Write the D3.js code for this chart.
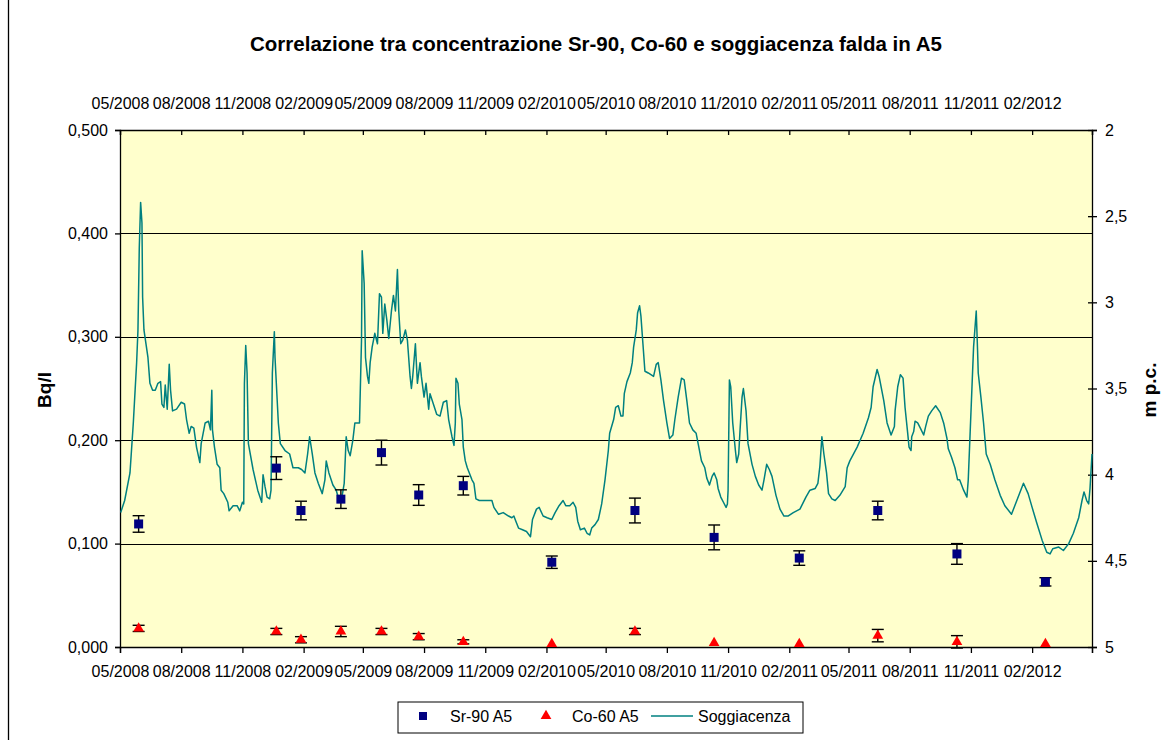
<!DOCTYPE html>
<html>
<head>
<meta charset="utf-8">
<script src="https://cdn.jsdelivr.net/npm/d3@7"></script>
<style>
  body { margin: 0; background: #fff; }
  svg { display: block; font-family: "Liberation Sans", Arial, sans-serif; }
</style>
</head>
<body>
<svg id="chart" width="1171" height="740"></svg>
<script>
// --- data ---
const title = "Correlazione tra concentrazione Sr-90, Co-60 e soggiacenza falda in A5";
const tickLabels = ["05/2008","08/2008","11/2008","02/2009","05/2009","08/2009","11/2009",
  "02/2010","05/2010","08/2010","11/2010","02/2011","05/2011","08/2011","11/2011","02/2012"];
const dateStart = "2008-05-01", dateEnd = "2012-05-01";

// sampling dates (Sr-90 and Co-60 share them)
const sampleDates = ["2008-05-29","2008-12-22","2009-01-28","2009-03-29","2009-05-29","2009-07-24",
  "2009-09-29","2010-02-09","2010-06-14","2010-10-11","2011-02-16","2011-06-14","2011-10-11","2012-02-21"];
const srValues = [0.119,0.173,0.132,0.143,0.188,0.147,0.156,0.082,0.132,0.106,0.086,0.132,0.090,0.063];
const srErr    = [0.008,0.011,0.009,0.009,0.012,0.010,0.009,0.006,0.012,0.012,0.007,0.009,0.010,0.004];
const coValues = [0.018,0.015,0.007,0.015,0.015,0.010,0.005,0.003,0.015,0.004,0.003,0.011,0.005,0.003];
const coErr    = [0.003,0.003,0.003,0.005,0.003,0.003,0.002,0,0.003,0,0,0.006,0.006,0];

// Soggiacenza: day of record (days since 01/05/2008) and depth in m p.c.
const soggDay = [1,7,15,20,25,27,29,31,33,34,36,42,45,49,53,57,61,63,66,68,71,74,76,79,85,92,97,100,104,107,
  111,115,120,122,128,133,136,138,139,142,146,150,152,156,162,164,170,176,180,184,186,187,189,191,193,200,207,213,215,218,
  221,225,227,229,232,233,238,241,248,255,260,268,273,278,282,285,289,293,298,304,308,310,314,320,325,330,334,337,340,343,
  346,350,353,356,360,363,364,367,369,372,374,376,379,383,387,390,393,395,398,401,404,408,411,414,417,419,422,425,429,432,
  436,438,440,444,447,451,453,457,460,464,466,471,476,481,486,491,494,499,502,504,505,508,510,514,516,519,522,529,532,535,
  540,559,562,569,576,584,589,592,595,599,605,611,617,620,626,630,636,642,649,654,660,666,670,676,681,685,688,692,698,702,
  706,709,714,719,724,729,734,736,742,745,749,753,756,758,762,767,770,772,776,778,781,783,786,789,794,802,806,809,813,817,
  822,826,831,834,839,844,848,852,856,861,866,869,874,879,882,886,890,893,897,899,903,907,911,913,914,916,918,921,925,927,
  930,932,935,937,941,944,950,955,960,965,968,972,976,980,986,992,998,1004,1012,1022,1031,1037,1045,1049,1052,1055,1058,1062,1065,1070,
  1075,1082,1090,1093,1097,1108,1117,1125,1129,1132,1138,1141,1148,1153,1159,1164,1165,1169,1173,1177,1180,1184,1186,1189,1190,1193,1195,1199,1203,1208,
  1211,1215,1220,1226,1233,1238,1243,1245,1250,1255,1259,1262,1268,1273,1275,1283,1287,1289,1290,1294,1298,1302,1308,1315,1323,1330,1340,1348,1358,1365,
  1371,1378,1386,1393,1398,1402,1411,1418,1426,1433,1441,1446,1449,1453,1456,1458,1461];
const soggM = [4.22,4.15,3.99,3.70,3.35,3.16,2.68,2.42,2.54,2.97,3.16,3.32,3.47,3.51,3.51,3.47,3.46,3.59,3.61,3.48,3.62,3.36,3.51,3.63,3.62,3.58,3.59,3.68,3.76,3.72,
  3.73,3.84,3.93,3.82,3.70,3.69,3.74,3.51,3.74,3.84,3.94,3.96,4.09,4.11,4.16,4.21,4.18,4.18,4.21,4.16,4.17,3.47,3.25,3.41,3.82,3.97,4.09,4.16,4.00,4.07,
  4.13,4.14,4.09,3.41,3.17,3.32,3.70,3.82,3.86,3.88,3.96,3.96,3.97,3.99,3.88,3.78,3.88,3.99,4.05,4.11,4.03,3.92,3.99,4.06,4.09,4.16,4.12,4.05,3.78,3.86,
  3.89,3.80,3.70,3.70,3.70,3.22,2.70,2.89,3.32,3.43,3.47,3.35,3.26,3.18,3.24,2.95,2.97,3.18,3.01,3.10,3.21,3.05,2.96,3.05,2.81,3.05,3.24,3.22,3.16,3.22,
  3.43,3.50,3.43,3.24,3.47,3.35,3.43,3.55,3.47,3.62,3.53,3.59,3.65,3.66,3.58,3.57,3.68,3.78,3.83,3.70,3.44,3.47,3.59,3.68,3.84,3.92,3.96,4.03,4.05,4.14,
  4.15,4.15,4.19,4.23,4.22,4.24,4.25,4.24,4.27,4.31,4.32,4.33,4.36,4.26,4.20,4.19,4.24,4.25,4.26,4.22,4.18,4.15,4.18,4.18,4.16,4.19,4.27,4.32,4.31,4.34,
  4.35,4.31,4.29,4.26,4.17,4.03,3.86,3.76,3.68,3.61,3.60,3.66,3.66,3.53,3.46,3.41,3.35,3.26,3.16,3.06,3.02,3.08,3.24,3.40,3.41,3.43,3.36,3.35,3.45,3.57,
  3.70,3.79,3.77,3.68,3.55,3.44,3.45,3.57,3.70,3.74,3.76,3.82,3.92,3.96,4.02,4.06,4.01,3.99,4.03,4.08,4.13,4.16,4.19,4.17,4.09,3.45,3.49,3.70,3.86,3.93,
  3.88,3.74,3.55,3.50,3.63,3.82,3.94,4.01,4.06,4.09,4.03,3.94,3.97,4.01,4.12,4.20,4.24,4.24,4.22,4.20,4.13,4.09,4.08,4.05,3.95,3.78,3.88,3.99,4.11,4.14,
  4.15,4.12,4.07,3.96,3.92,3.84,3.76,3.67,3.61,3.49,3.39,3.43,3.57,3.70,3.77,3.72,3.63,3.49,3.42,3.44,3.61,3.76,3.84,3.86,3.78,3.75,3.69,3.70,3.73,3.77,
  3.72,3.66,3.63,3.60,3.64,3.70,3.79,3.85,3.90,3.96,4.03,4.03,4.09,4.13,4.03,3.26,3.05,3.28,3.41,3.55,3.70,3.88,3.94,4.03,4.12,4.18,4.23,4.15,4.05,4.11,
  4.19,4.28,4.38,4.45,4.46,4.43,4.42,4.44,4.40,4.34,4.25,4.15,4.10,4.15,4.17,4.08,3.88];

const legendNames = ["Sr-90 A5", "Co-60 A5", "Soggiacenza"];

// --- setup ---
const svg = d3.select("#chart");
const margin = {top: 130, right: 79, bottom: 93, left: 120};
const W = 1171, H = 740;
const width = W - margin.left - margin.right,
  height = H - margin.top - margin.bottom;

const parse = d3.timeParse("%Y-%m-%d");
const t0 = parse(dateStart), t1 = parse(dateEnd);
const locale = d3.formatLocale({decimal: ",", thousands: ".", grouping: [3], currency: ["", "€"]});

const x = d3.scaleTime().domain([t0, t1]).range([0, width]);
const y = d3.scaleLinear().domain([0, 0.5]).range([height, 0]);
const y2 = d3.scaleLinear().domain([2, 5]).range([0, height]);

const dates = sampleDates.map(parse);
const srData = dates.map((d, i) => ({date: d, v: srValues[i], e: srErr[i]}));
const coData = dates.map((d, i) => ({date: d, v: coValues[i], e: coErr[i]}));
const soggData = soggDay.map((d, i) => ({date: d3.timeDay.offset(t0, d), v: soggM[i]}));

// chart frame (left edge visible)
svg.append("line").attr("x1", 8.5).attr("x2", 8.5).attr("y1", 0).attr("y2", H)
  .attr("stroke", "#000").attr("stroke-width", 1.3);

// title
svg.append("text").attr("x", 596).attr("y", 51).attr("text-anchor", "middle")
  .style("font-size", "20.5px").style("font-weight", "bold").text(title);

const g = svg.append("g").attr("transform", "translate(" + margin.left + "," + margin.top + ")");

g.append("rect").attr("width", width).attr("height", height).attr("fill", "#ffffcc");

// gridlines
g.append("g").selectAll("line").data([0.1, 0.2, 0.3, 0.4]).enter().append("line")
  .attr("x1", 0).attr("x2", width)
  .attr("y1", d => Math.round(y(d)) + 0.5).attr("y2", d => Math.round(y(d)) + 0.5)
  .attr("stroke", "#000").attr("stroke-width", 1);

// axes
const tickDates = tickLabels.map(d3.timeParse("%m/%Y")).concat([t1]);
const fmtX = (d, i) => i < tickLabels.length ? tickLabels[i] : "";

function styleAxis(sel) {
  sel.select(".domain").attr("stroke", "#000").attr("stroke-width", 1.3);
  sel.selectAll(".tick line").attr("stroke", "#000").attr("stroke-width", 1.3);
  sel.selectAll("text").style("font-size", "16px").attr("fill", "#000");
  sel.attr("font-family", null);
}

g.append("g").attr("transform", "translate(0," + height + ")")
  .call(d3.axisBottom(x).tickValues(tickDates).tickFormat(fmtX).tickSizeOuter(0).tickSize(6).tickPadding(13))
  .call(styleAxis);

g.append("g")
  .call(d3.axisTop(x).tickValues(tickDates).tickFormat(fmtX).tickSizeOuter(0).tickSize(-5).tickPadding(21))
  .call(styleAxis);

g.append("g")
  .call(d3.axisLeft(y).tickValues([0, 0.1, 0.2, 0.3, 0.4, 0.5]).tickFormat(locale.format(".3f"))
    .tickSizeOuter(0).tickSize(5).tickPadding(7))
  .call(styleAxis);

const rAxis = g.append("g").attr("transform", "translate(" + width + ",0)")
  .call(d3.axisRight(y2).tickValues([2, 2.5, 3, 3.5, 4, 4.5, 5]).tickFormat(locale.format(".1~f"))
    .tickSizeOuter(0).tickSize(5).tickPadding(8))
  .call(styleAxis);
rAxis.selectAll(".tick line").attr("x1", -4);

// axis titles
svg.append("text").attr("transform", "translate(51,390) rotate(-90)").attr("text-anchor", "middle")
  .style("font-size", "19px").style("font-weight", "bold").text("Bq/l");
svg.append("text").attr("transform", "translate(1156,390) rotate(-90)").attr("text-anchor", "middle")
  .style("font-size", "19px").style("font-weight", "bold").text("m p.c.");

// Soggiacenza line
const line = d3.line().x(d => x(d.date)).y(d => y2(d.v));
g.append("path").datum(soggData).attr("d", line)
  .attr("fill", "none").attr("stroke", "#008080").attr("stroke-width", 1.5).attr("stroke-linejoin", "round");

// error bars
function errorBars(data) {
  const eb = g.append("g").selectAll("g").data(data.filter(d => d.e > 0)).enter().append("g")
    .attr("stroke", "#000").attr("stroke-width", 1.4);
  eb.append("line").attr("x1", d => x(d.date)).attr("x2", d => x(d.date))
    .attr("y1", d => y(d.v + d.e)).attr("y2", d => y(d.v - d.e));
  eb.append("line").attr("x1", d => x(d.date) - 6).attr("x2", d => x(d.date) + 6)
    .attr("y1", d => y(d.v + d.e)).attr("y2", d => y(d.v + d.e));
  eb.append("line").attr("x1", d => x(d.date) - 6).attr("x2", d => x(d.date) + 6)
    .attr("y1", d => y(d.v - d.e)).attr("y2", d => y(d.v - d.e));
}
errorBars(srData);
errorBars(coData);

// markers
const sq = 9;
g.append("g").selectAll("rect").data(srData).enter().append("rect")
  .attr("x", d => x(d.date) - sq / 2).attr("y", d => y(d.v) - sq / 2)
  .attr("width", sq).attr("height", sq).attr("fill", "#000080");

const tri = d3.symbol().type(d3.symbolTriangle).size(50);
g.append("g").selectAll("path").data(coData).enter().append("path")
  .attr("transform", d => "translate(" + x(d.date) + "," + y(d.v) + ")")
  .attr("d", tri).attr("fill", "#ff0000");

// legend
const lg = svg.append("g");
lg.append("rect").attr("x", 398).attr("y", 702).attr("width", 405).attr("height", 31)
  .attr("fill", "#fff").attr("stroke", "#000").attr("stroke-width", 1);
lg.append("rect").attr("x", 423 - 4).attr("y", 716 - 4).attr("width", 8).attr("height", 8).attr("fill", "#000080");
lg.append("path").attr("transform", "translate(546,716)").attr("d", tri).attr("fill", "#ff0000");
lg.append("line").attr("x1", 651).attr("x2", 693).attr("y1", 716).attr("y2", 716)
  .attr("stroke", "#008080").attr("stroke-width", 1.5);
[[450, 0], [572, 1], [698, 2]].forEach(([lx, i]) => {
  lg.append("text").attr("x", lx).attr("y", 721.5).style("font-size", "16px").text(legendNames[i]);
});
</script>
</body>
</html>
